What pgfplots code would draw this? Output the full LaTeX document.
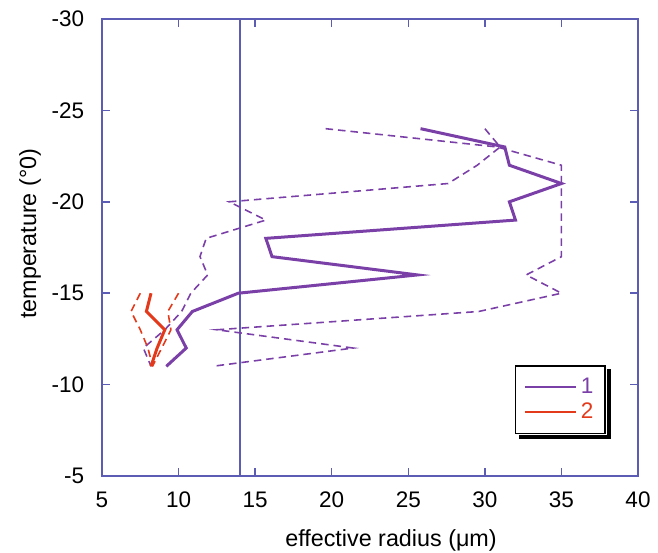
\documentclass[border=0pt]{standalone}
\usepackage{pgfplots}
\pgfplotsset{compat=1.18}
\usepackage{fontspec}
\setmainfont{Liberation Sans}
\definecolor{axblue}{RGB}{92,92,180}
\definecolor{purp}{RGB}{122,64,168}
\definecolor{myred}{RGB}{228,58,28}
\begin{document}
\begin{tikzpicture}
\begin{axis}[
  width=321.6pt, height=274.2pt, scale only axis,
  xmin=5, xmax=40, ymin=-30, ymax=-5, y dir=reverse,
  xtick={5,10,...,40}, ytick={-30,-25,...,-5},
  axis line style={axblue, line width=0.9pt},
  every tick/.style={axblue, line width=0.9pt},
  major tick length=5pt,
  tick align=inside,
  /pgf/number format/assume math mode=true,
  tick label style={font=\fontsize{13.5}{15}\selectfont},
  xticklabel style={anchor=center, yshift=-14.5pt},
  yticklabel style={anchor=east, inner sep=0pt, xshift=-10.5pt},
  xlabel={effective radius (μm)},
  ylabel={temperature (°0)},
  label style={font=\fontsize{14}{16}\selectfont},
  xlabel style={at={(axis description cs:0.5,0)}, anchor=center, yshift=-38.4pt, xshift=12.6pt},
  ylabel style={at={(axis description cs:-0.134,0.53)}, anchor=center},
  legend style={at={(axis description cs:0.94,0.243)}, anchor=north east, name=mylegend,
    draw=black, line width=1pt, fill=white,
    font=\fontsize{13.5}{15}\selectfont, inner xsep=5pt, inner ysep=5.5pt, row sep=0pt},
  legend image code/.code={\draw[#1, line width=1.3pt] (0pt,0pt) -- (31pt,0pt);},
]
\addplot[axblue, line width=1pt, forget plot] coordinates {(14,-30) (14,-5)};
% dashed purple
\addplot[purp, line width=0.95pt, dash pattern=on 4.5pt off 3pt, forget plot] coordinates {
(19.6,-24)(30.8,-23)(35,-22)(35,-21)(35,-20)(35,-19)(35,-18)(35,-17)(32.7,-16)(35,-15)(29.6,-14)(12.5,-13)(21.4,-12)(12.2,-11)};
\addplot[purp, line width=0.95pt, dash pattern=on 4.5pt off 3pt, forget plot] coordinates {
(30.0,-24)(31.0,-23)(29.5,-22)(27.6,-21)(13.3,-20)(15.7,-19)(11.8,-18)(11.4,-17)(11.9,-16)(10.8,-15)(10.2,-14)(9.1,-13)(7.7,-12)(8.2,-11)};
% dashed red
\addplot[myred, line width=0.95pt, dash pattern=on 4.5pt off 3pt, forget plot] coordinates {
(7.5,-15)(6.9,-14)(7.5,-13)(8.0,-12)(8.3,-11)};
\addplot[myred, line width=0.95pt, dash pattern=on 4.5pt off 3pt, forget plot] coordinates {
(10.0,-15)(9.3,-14)(9.5,-13)(8.9,-12)(8.3,-11)};
% solid
\addplot[purp, line width=1.8pt] coordinates {
(25.8,-24)(31.3,-23)(31.6,-22)(35,-21)(31.6,-20)(32,-19)(15.7,-18)(16.1,-17)(25.6,-16)(13.9,-15)(10.9,-14)(9.9,-13)(10.5,-12)(9.2,-11)};
\addlegendentry{\textcolor{purp}{1}}
\addplot[myred, line width=1.8pt] coordinates {
(8.2,-15)(7.9,-14)(9.1,-13)(8.6,-12)(8.2,-11)};
\addlegendentry{\textcolor{myred}{2}}
\end{axis}
\fill[black] ([shift={(0.5pt,-2.5pt)}]mylegend.north east) rectangle ([shift={(3pt,-3pt)}]mylegend.south east);
\fill[black] ([shift={(2.5pt,-0.5pt)}]mylegend.south west) rectangle ([shift={(3pt,-3pt)}]mylegend.south east);
\pgfresetboundingbox
\path ([shift={(-61.2pt,-45.6pt)}]current axis.south west) rectangle ([shift={(12pt,11.4pt)}]current axis.north east);
\end{tikzpicture}
\end{document}
